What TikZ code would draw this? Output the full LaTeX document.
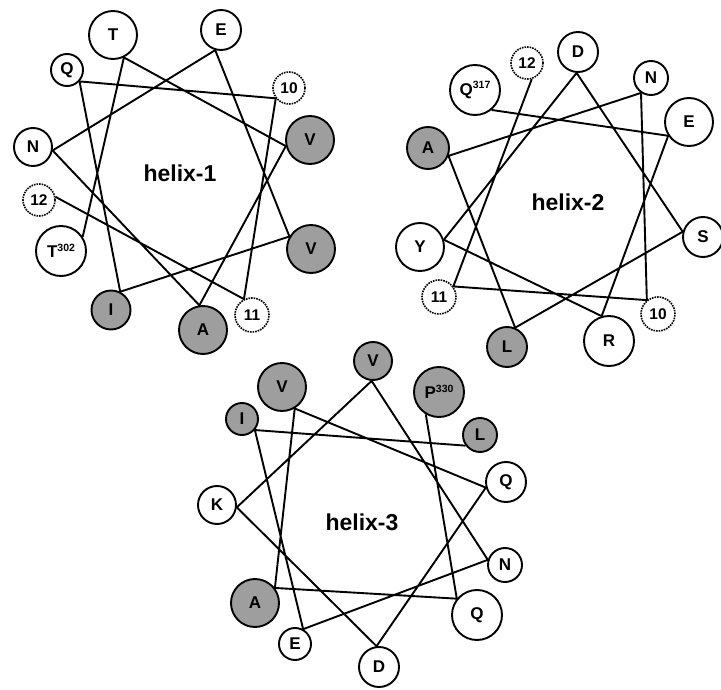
\documentclass[tikz,border=0pt]{standalone}
\usepackage{fontspec}
\setmainfont{Liberation Sans}
\usetikzlibrary{calc}
\definecolor{resgray}{gray}{0.62}
\newcommand\resfont{\fontsize{17}{17}\selectfont\bfseries}
\newcommand\numfont{\fontsize{15.5}{15.5}\selectfont\bfseries}
\newcommand\labfont{\fontsize{23}{23}\selectfont\bfseries}
\newcommand\supnum[1]{\raisebox{6.5pt}{\fontsize{10.5}{10.5}\selectfont\bfseries #1}}
\newcommand\attachto[2]{\foreach \n in {#2} {\path (\n) -- (#1.center) coordinate[pos=0] (\n-in);}}
\tikzset{
  res/.style={circle, draw, line width=1.9pt, fill=white, inner sep=0pt, font=\resfont},
  hyd/.style={res, fill=resgray},
  blank/.style={circle, draw, densely dotted, line width=1.6pt, fill=white, inner sep=0pt, font=\numfont},
  link/.style={line width=1.9pt, line join=round},
  lab/.style={font=\labfont, inner sep=0pt}
}
\begin{document}
\begin{tikzpicture}[x=1pt,y=-1pt]
\useasboundingbox (0,0) rectangle (721,690);
% ---------------- helix-1
\node[lab] (H1) at (180,173) {helix-1};
\node[res, minimum size=50pt] (h1T302) at (61,251) {T\supnum{302}};
\node[res, minimum size=48pt] (h1T) at (113,35) {T};
\node[hyd, minimum size=48pt] (h1Vu) at (310,140) {V};
\node[hyd, minimum size=48pt] (h1A) at (203,330) {A};
\node[res, minimum size=38pt] (h1N) at (33,147) {N};
\node[res, minimum size=40pt] (h1E) at (221,30) {E};
\node[hyd, minimum size=48pt] (h1Vl) at (311,249) {V};
\node[hyd, minimum size=39pt] (h1I) at (111,310) {I};
\node[res, minimum size=32pt] (h1Q) at (67,70) {Q};
\node[blank, minimum size=32pt] (h1x10) at (289,88) {10};
\node[blank, minimum size=34pt] (h1x11) at (252,315) {11};
\node[blank, minimum size=32pt] (h1x12) at (39,200) {12};
\attachto{H1}{h1T302,h1T,h1Vu,h1A,h1N,h1E,h1Vl,h1I,h1Q,h1x10,h1x11,h1x12}
\draw[link] (h1T302-in) -- (h1T-in) -- (h1Vu-in) -- (h1A-in) -- (h1N-in) -- (h1E-in)
  -- (h1Vl-in) -- (h1I-in) -- (h1Q-in) -- (h1x10-in) -- (h1x11-in) -- (h1x12-in);
% ---------------- helix-2
\node[lab] (H2) at (568,202) {helix-2};
\node[res, minimum size=50pt] (h2Q) at (475,90) {Q\supnum{317}};
\node[res, minimum size=48pt] (h2E) at (689,122) {E};
\node[res, minimum size=50pt] (h2R) at (609,341) {R};
\node[res, minimum size=48pt] (h2Y) at (420,247) {Y};
\node[res, minimum size=40pt] (h2D) at (578,52) {D};
\node[res, minimum size=40pt] (h2S) at (703,237) {S};
\node[hyd, minimum size=40pt] (h2L) at (507,347) {L};
\node[hyd, minimum size=42pt] (h2A) at (428,148) {A};
\node[res, minimum size=34pt] (h2N) at (651,78) {N};
\node[blank, minimum size=34pt] (h2x10) at (658,314) {10};
\node[blank, minimum size=34pt] (h2x11) at (439,297) {11};
\node[blank, minimum size=32pt] (h2x12) at (527,63) {12};
\attachto{H2}{h2Q,h2E,h2R,h2Y,h2D,h2S,h2L,h2A,h2N,h2x10,h2x11,h2x12}
\draw[link] (h2Q-in) -- (h2E-in) -- (h2R-in) -- (h2Y-in) -- (h2D-in) -- (h2S-in)
  -- (h2L-in) -- (h2A-in) -- (h2N-in) -- (h2x10-in) -- (h2x11-in) -- (h2x12-in);
% ---------------- helix-3
\node[lab] (H3) at (362,522) {helix-3};
\node[hyd, minimum size=50pt] (h3P) at (439,392) {P\supnum{330}};
\node[res, minimum size=50pt] (h3Ql) at (477,615) {Q};
\node[hyd, minimum size=48pt] (h3A) at (255,603) {A};
\node[hyd, minimum size=48pt] (h3Vg) at (282,387) {V};
\node[res, minimum size=40pt] (h3Qu) at (506,482) {Q};
\node[res, minimum size=40pt] (h3D) at (379,667) {D};
\node[res, minimum size=38pt] (h3K) at (217,505) {K};
\node[hyd, minimum size=38pt] (h3Vt) at (373,361) {V};
\node[res, minimum size=34pt] (h3N) at (505,565) {N};
\node[res, minimum size=32pt] (h3E) at (295,644) {E};
\node[hyd, minimum size=32pt] (h3I) at (242,419) {I};
\node[hyd, minimum size=34pt] (h3L) at (480,435) {L};
\attachto{H3}{h3P,h3Ql,h3A,h3Vg,h3Qu,h3D,h3K,h3Vt,h3N,h3E,h3I,h3L}
\draw[link] (h3P-in) -- (h3Ql-in) -- (h3A-in) -- (h3Vg-in) -- (h3Qu-in) -- (h3D-in)
  -- (h3K-in) -- (h3Vt-in) -- (h3N-in) -- (h3E-in) -- (h3I-in) -- (h3L-in);
\end{tikzpicture}
\end{document}
